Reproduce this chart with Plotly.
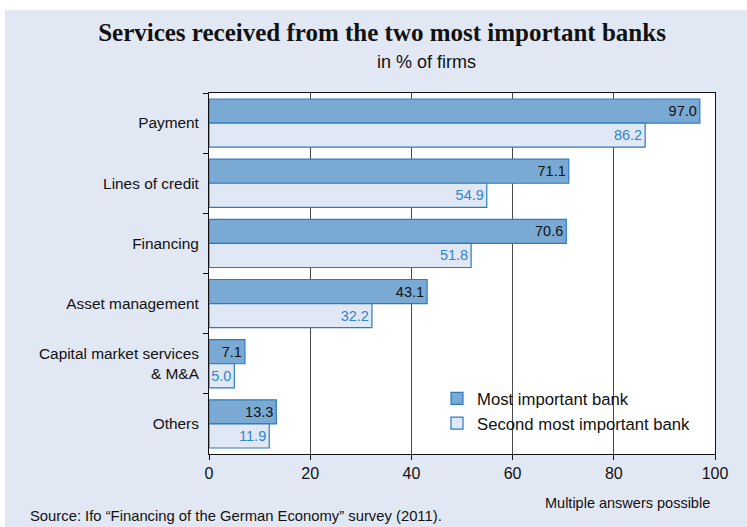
import plotly.graph_objects as go

categories = ["Payment", "Lines of credit", "Financing", "Asset management",
              "Capital market services<br>& M&A", "Others"]
most_important = [97.0, 71.1, 70.6, 43.1, 7.1, 13.3]
second_important = [86.2, 54.9, 51.8, 32.2, 5.0, 11.9]
series_names = ["Most important bank", "Second most important bank"]
x_ticks = [0, 20, 40, 60, 80, 100]

W, H = 747, 527
L, R, T, B = 209, 32, 93, 73
PW, PH = W - L - R, H - T - B

def px(x):
    return (x - L) / PW

def py(y):
    return (H - B - y) / PH

BG = "#E1E8F4"
EDGE = "#2C7BBF"

fig = go.Figure()
fig.add_trace(go.Bar(
    y=categories, x=most_important, orientation="h", name=series_names[0],
    marker=dict(color="#7AAAD4", line=dict(color=EDGE, width=1.2)),
    text=[f"{v:.1f}" for v in most_important], textposition="inside",
    insidetextanchor="end", textfont=dict(color="#111111", size=14.5, family="Liberation Sans"),
    cliponaxis=False,
))
fig.add_trace(go.Bar(
    y=categories, x=second_important, orientation="h", name=series_names[1],
    marker=dict(color="#E1E8F5", line=dict(color=EDGE, width=1.2)),
    text=[f"{v:.1f}" for v in second_important], textposition="inside",
    insidetextanchor="end", textfont=dict(color="#2F85CC", size=14.5, family="Liberation Sans"),
    cliponaxis=False,
))

fig.update_layout(
    width=W, height=H,
    margin=dict(l=L, r=R, t=T, b=B),
    paper_bgcolor=BG, plot_bgcolor="white",
    barmode="group", bargap=0.2, bargroupgap=0,
    uniformtext=dict(minsize=14.5, mode="show"),
    font=dict(family="Liberation Sans", color="#111111", size=14),
    title=dict(text="<b>Services received from the two most important banks</b>",
               font=dict(family="Liberation Serif", size=25, color="#111111"),
               x=382 / W, xanchor="center", y=1 - 32 / H, yanchor="middle"),
    xaxis=dict(range=[0, 100], tickvals=x_ticks, ticks="outside", ticklen=5,
               tickcolor="#111111", showline=True, linecolor="#111111", linewidth=1,
               mirror=True, showgrid=True, gridcolor="#4a4a4a", gridwidth=1.4,
               zeroline=False, tickfont=dict(size=16), fixedrange=True),
    yaxis=dict(autorange="reversed", ticks="outside", tickson="boundaries", ticklen=5,
               tickcolor="#111111", showline=True, linecolor="#111111", linewidth=1,
               mirror=True, showgrid=False, tickfont=dict(size=15.4), ticklabelstandoff=6),
    legend=dict(x=px(437), y=py(381), xanchor="left", yanchor="top",
                bgcolor="rgba(255,255,255,0)", font=dict(size=16.7),
                traceorder="normal", itemwidth=30, tracegroupgap=0),
    shapes=[
        dict(type="rect", xref="paper", yref="paper", x0=px(0), x1=px(W), y0=py(0), y1=py(10),
             fillcolor="white", line=dict(width=0), layer="below"),
        dict(type="rect", xref="paper", yref="paper", x0=px(0), x1=px(5), y0=py(0), y1=py(H),
             fillcolor="white", line=dict(width=0), layer="below"),
    ],
    annotations=[
        dict(text="in % of firms", xref="paper", yref="paper", x=px(426), y=py(62),
             xanchor="center", yanchor="middle", showarrow=False, font=dict(size=18)),
        dict(text="Multiple answers possible", xref="paper", yref="paper", x=px(712), y=py(503),
             xanchor="right", yanchor="middle", showarrow=False, font=dict(size=14.5)),
        dict(text="Source: Ifo \u201cFinancing of the German Economy\u201d survey (2011).",
             xref="paper", yref="paper", x=px(28), y=py(516),
             xanchor="left", yanchor="middle", showarrow=False, font=dict(size=14.8)),
    ],
)

fig.write_html("out.html", config={"displayModeBar": False},
               post_script="document.body.style.margin='0';")
